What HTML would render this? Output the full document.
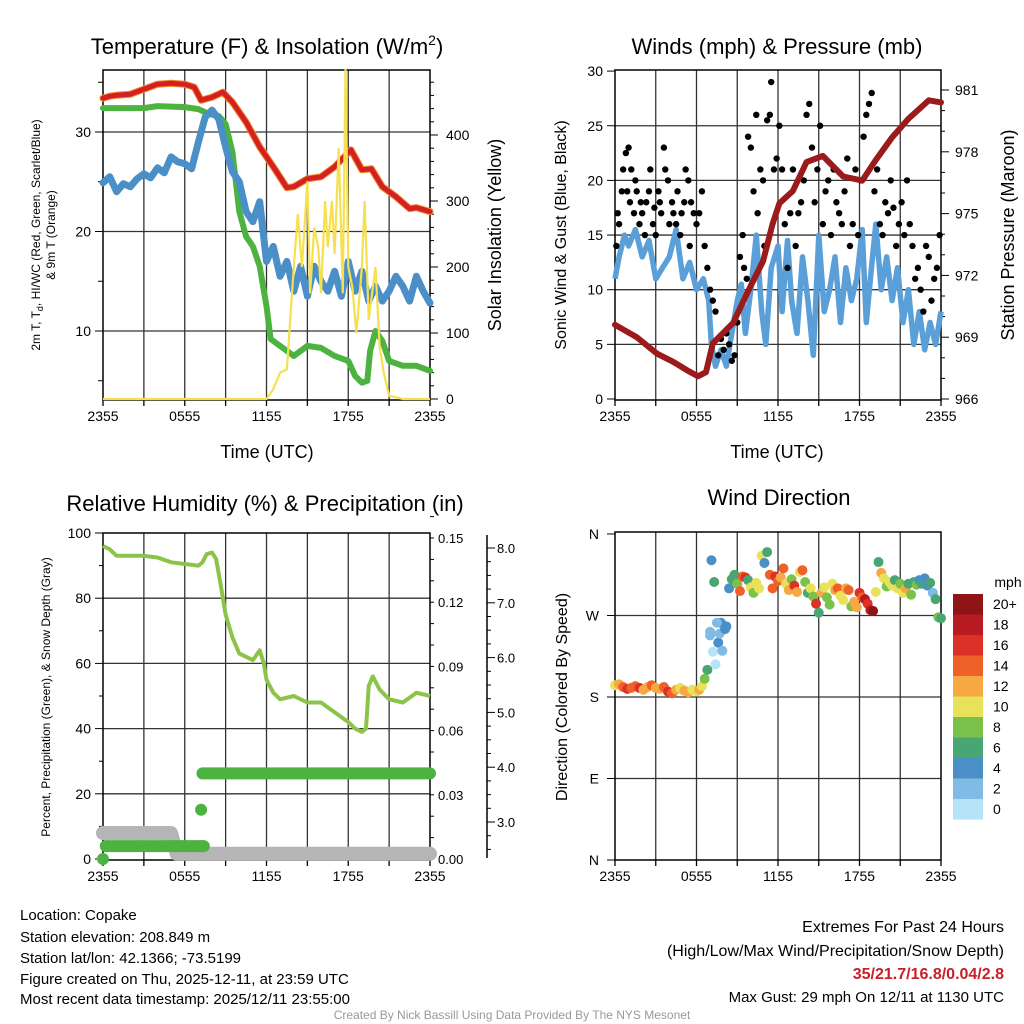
<!DOCTYPE html>
<html><head><meta charset="utf-8"><style>
html,body{margin:0;padding:0;background:#fff;}
svg{display:block;font-family:"Liberation Sans",sans-serif;}
</style></head><body>
<svg id="c" width="1024" height="1024" viewBox="0 0 1024 1024" xmlns="http://www.w3.org/2000/svg">
<rect width="1024" height="1024" fill="#fff"/>
<g id="g1"></g>
<g id="g2"></g>
<g id="g3"></g>
<g id="g4"></g>
<text x="267" y="54" font-size="22" text-anchor="middle">Temperature (F) &amp; Insolation (W/m<tspan font-size="14" dy="-9">2</tspan><tspan dy="9">)</tspan></text>
<text x="777" y="54" font-size="22" text-anchor="middle">Winds (mph) &amp; Pressure (mb)</text>
<text x="265" y="511" font-size="22" text-anchor="middle">Relative Humidity (%) &amp; Precipitation (in)</text>
<text x="779" y="505" font-size="22" text-anchor="middle">Wind Direction</text>
<text x="267" y="458" font-size="18" text-anchor="middle">Time (UTC)</text>
<text x="777" y="458" font-size="18" text-anchor="middle">Time (UTC)</text>
<text transform="translate(40,235) rotate(-90)" font-size="12" text-anchor="middle">2m T, T<tspan font-size="9" dy="3">d</tspan><tspan dy="-3">, HI/WC (Red, Green, Scarlet/Blue)</tspan></text>
<text transform="translate(55,235) rotate(-90)" font-size="12" text-anchor="middle">&amp; 9m T (Orange)</text>
<text transform="translate(501,235) rotate(-90)" font-size="18" text-anchor="middle">Solar Insolation (Yellow)</text>
<text transform="translate(566,235) rotate(-90)" font-size="16" text-anchor="middle">Sonic Wind &amp; Gust (Blue, Black)</text>
<text transform="translate(1014,235) rotate(-90)" font-size="18" text-anchor="middle">Station Pressure (Maroon)</text>
<text transform="translate(50,697) rotate(-90)" font-size="12" text-anchor="middle">Percent, Precipitation (Green), &amp; Snow Depth (Gray)</text>
<text transform="translate(567,697) rotate(-90)" font-size="16" text-anchor="middle">Direction (Colored By Speed)</text>
<g font-size="15">
<text x="20" y="920">Location: Copake</text>
<text x="20" y="942">Station elevation: 208.849 m</text>
<text x="20" y="963">Station lat/lon: 42.1366; -73.5199</text>
<text x="20" y="984">Figure created on Thu, 2025-12-11, at 23:59 UTC</text>
<text x="20" y="1004">Most recent data timestamp: 2025/12/11 23:55:00</text>
</g>
<g font-size="16" text-anchor="end">
<text x="1004" y="932">Extremes For Past 24 Hours</text>
<text x="1004" y="956">(High/Low/Max Wind/Precipitation/Snow Depth)</text>
<text x="1004" y="979" fill="#c8202a" font-weight="bold">35/21.7/16.8/0.04/2.8</text>
<text x="1004" y="1002" font-size="15">Max Gust: 29 mph On 12/11 at 1130 UTC</text>
</g>
<text x="512" y="1019" font-size="12" fill="#999" text-anchor="middle">Created By Nick Bassill Using Data Provided By The NYS Mesonet</text>
</svg>
<script>
const xTickLabels=["2355","0555","1155","1755","2355"];
const tempHours=[0,0.5,1,2,3,4,5,6,6.7,7.2,8,8.8,9.5,10.5,11.5,12.5,13.5,14,15,16,17,17.7,18.2,19,19.7,20.5,21.5,22.5,23,24];
const tempValues=[33.4,33.6,33.7,33.8,34.3,34.8,34.9,34.8,34.5,33.2,33.5,34.0,33.0,31.0,28.5,26.5,24.4,24.5,25.3,25.5,26.5,27.5,28.2,26.2,26.3,24.5,23.5,22.3,22.4,22.0];
const hiHours=[0,1,3,4,6,7,7.8,8.5,9,9.5,10,10.5,11,11.5,12,12.3,13,14,15,16,17,18,18.5,19,19.4,19.6,20,20.5,21,22,23,24];
const hiValues=[32.4,32.4,32.4,32.6,32.5,32.3,31.8,31.6,30.8,28,22,19.5,18.5,16.5,12.5,9.2,8.5,7.5,8.5,8.3,7.5,7.0,5.5,4.8,5.0,8,10,9,7,6.5,6.5,6.0];
const dewHours=[0,0.5,1,1.5,2,2.5,3,3.5,4,4.5,5,5.5,6,6.5,7,7.5,8,8.5,9,9.5,10,10.5,11,11.5,12,12.5,13,13.5,14,14.5,15,15.5,16,16.5,17,17.5,18,18.5,19,19.5,20,20.5,21,21.5,22,22.5,23,23.5,24];
const dewValues=[24.9,25.5,24,24.8,24.5,25.3,25.8,25.4,26.4,25.9,27.5,27,26.8,26.3,29,31.5,32.2,31.3,28.5,26,25,22,21,23,17,18.5,15.5,17,14,16.5,13.5,16.5,15,14,16,13.5,17,14,16,13,14.5,13,14,15.5,14.5,13,15.5,14,12.8];
const solarHours=[0,12,12.5,13,13.5,14,14.3,14.6,15,15.2,15.5,15.8,16,16.3,16.5,16.8,17,17.3,17.6,17.8,18,18.3,18.6,19,19.2,19.5,20,20.3,20.6,21,22,24];
const solarValues=[0,0,15,40,45,200,280,200,330,160,260,230,160,300,230,300,220,380,160,500,200,170,100,200,300,120,200,80,40,5,0,0];
const presHours=[0,1.6,3.1,4.3,5.3,6.1,6.7,7.2,8.7,9.7,10.9,11.6,12.1,13.1,14.1,15.3,16.8,18.2,19.2,20.4,21.6,23.1,24];
const presValues=[969.6,969.0,968.2,967.8,967.4,967.1,967.3,968.7,969.7,971.1,972.7,974.5,975.5,976.1,977.5,977.8,976.8,976.6,977.6,978.7,979.6,980.5,980.4];
const windHours=[0,0.3,0.7,1,1.5,2,2.5,3,3.5,4,4.5,5,5.5,6,6.5,6.9,7.1,7.4,7.8,8.2,8.6,9,9.3,9.6,10,10.4,10.8,11.1,11.5,12,12.3,12.7,13,13.4,13.8,14.2,14.6,15,15.4,15.8,16.2,16.6,17,17.4,17.8,18.2,18.5,18.8,19.2,19.6,20,20.4,20.8,21.2,21.6,22,22.4,22.8,23.2,23.6,24];
const windValues=[11,13,15,14,15.5,13,14.5,11,12,13,15.5,11,12.5,10,11,9,5,3,4.5,3,6,9,10.5,6,10,15,8,5,12,14,8,14.5,9,6,13,9,4,15,8,10,13,7,12,9,11,15.5,7,11,16,10,13,9,12,7,10,5,8,4.5,7,5,8];
const gustHours=[0.1,0.2,0.3,0.5,0.6,0.8,0.9,1.0,1.1,1.2,1.4,1.5,1.6,1.8,1.9,2.0,2.2,2.3,2.5,2.6,2.8,2.9,3.0,3.2,3.3,3.4,3.6,3.7,3.9,4.0,4.2,4.3,4.5,4.6,4.8,4.9,5.1,5.2,5.4,5.5,5.6,5.8,6.0,6.2,6.4,6.6,6.8,7.0,7.2,7.4,7.6,7.8,8.0,8.2,8.4,8.6,8.8,9.0,9.2,9.4,9.5,9.7,9.8,10.0,10.2,10.4,10.5,10.7,10.9,11.0,11.2,11.4,11.5,11.7,11.9,12.1,12.3,12.5,12.7,12.9,13.1,13.3,13.5,13.7,13.9,14.1,14.3,14.5,14.7,14.9,15.1,15.3,15.5,15.7,15.9,16.1,16.3,16.5,16.7,16.9,17.1,17.3,17.5,17.7,17.9,18.1,18.3,18.5,18.7,18.9,19.1,19.3,19.5,19.7,19.9,20.1,20.3,20.5,20.7,20.9,21.1,21.3,21.5,21.7,21.9,22.1,22.3,22.5,22.7,22.9,23.1,23.3,23.5,23.7,23.9];
const gustValues=[14,17,16,19,21,22.5,19,23,18,21,17,20,19,16,18,17,15,18,19,21,16,17.5,15,19,18,17,23,21,20,16,18,17,16,19,15,17,18,21,20,14,18,17,16,17,19,14,12,10,9,8,4,5.5,4.5,6,5,3.5,4,7,13,15,12,11,24,23,19,26,17,21,20,14,25.5,26,29,21,22,25,21,16,12,17,21,14,17,18,20,26,27,23,18,21,25,16,19,20,15,21,18,17,16,19,22,14,16,21,15,20,24,26,27,28,19,21,16,15,18,17,20,17.5,14,16,18,15,20,16,14,11,12,10,8,14,13,9,11,12,15];
const rhHours=[0,0.5,1,3,4,5,6,7,7.3,7.6,8,8.3,8.6,9,9.5,10,11,11.5,11.8,12,12.5,13,14,15,16,17,18,18.5,19,19.3,19.5,19.8,20.3,21,22,23,24];
const rhValues=[96,95,93,93,92.5,91,90.5,90,91,93.5,94,92,85,75,68,63,61,64,60,55,51,49,50,48,48,45,42,40,39,40,53,56,52,49,48,51,50];
const precipHours=[0,0.2,7.4,7.2,7.3,24];
const precipValues=[0,0.006,0.006,0.023,0.04,0.04];
const snowHours=[0,5,5.4,24];
const snowValues=[2.8,2.8,2.42,2.42];
const dirHours=[0,0.3,0.6,0.9,1.2,1.5,1.8,2.1,2.4,2.7,3.0,3.3,3.6,3.9,4.2,4.5,4.8,5.1,5.4,5.7,6.0,6.2,6.4,6.6,6.8,7.0,7.2,7.4,7.6,7.8,7.0,7.1,7.3,7.5,7.7,7.9,8.1,8.2,8.4,8.6,8.8,9.0,9.2,9.4,9.6,9.8,10.0,10.2,10.4,10.6,10.8,11.0,11.2,11.4,11.6,11.8,12.0,12.2,12.4,12.6,12.8,13.0,13.2,13.4,13.6,13.8,14.0,14.2,14.4,14.6,14.8,15.0,15.2,15.4,15.6,15.8,16.0,16.2,16.4,16.6,16.8,17.0,17.2,17.4,17.6,17.8,18.0,18.2,18.4,18.6,18.8,19.0,19.2,19.4,19.6,19.8,20.0,20.2,20.4,20.6,20.8,21.0,21.2,21.4,21.6,21.8,22.0,22.2,22.4,22.6,22.8,23.0,23.2,23.4,23.6,23.8,24.0];
const dirValues=[193,194,191,189,190,192,190,188,191,193,190,189,191,186,184,188,190,187,185,188,186,188,192,200,210,252,230,216,240,262,248,331,307,262,250,231,255,258,300,310,315,305,297,313,312,309,301,295,306,300,336,328,340,315,300,313,308,312,322,305,298,310,303,296,318,320,307,295,300,291,283,273,295,301,290,282,305,298,300,292,287,300,298,280,285,279,295,290,288,283,276,275,296,329,317,311,302,307,303,309,300,305,295,300,305,293,307,304,309,305,311,303,306,295,288,268,267];
const dirSpeeds=[11,13,15,16,14,15,16,13,12,14,12,13,14,16,15,12,10,13,12,10,10,12,10,8,7,2,1,1,5,5,2,4,6,2,2,2,4,4,5,6,7,9,14,15,16,6,11,9,10,11,10,4,6,15,14,17,15,12,14,11,12,9,16,13,10,14,8,7,11,8,16,7,12,10,9,8,11,13,14,10,10,13,15,8,12,12,16,14,18,17,18,20,11,7,12,10,8,10,11,6,10,9,10,12,6,8,6,9,4,7,4,4,6,3,6,8,7];
const cbLabels=["20+","18","16","14","12","10","8","6","4","2","0"];
const cbColors=["#8e1418","#b81c22","#dc3127","#f0612a","#f7a843","#e8e25a","#7ac24a","#48a673","#4a8fc6","#7fbbe4","#b5e3f7"];

const NS="http://www.w3.org/2000/svg";
function mk(parent,tag,attrs){const e=document.createElementNS(NS,tag);for(const k in attrs)e.setAttribute(k,attrs[k]);parent.appendChild(e);return e;}
function txt(parent,x,y,s,size,anchor){const t=mk(parent,'text',{x:x,y:y,'font-size':size,'text-anchor':anchor||'middle'});t.textContent=s;return t;}
function pathOf(xs,ys,sx,sy){return xs.map((h,i)=>(i?'L':'M')+sx(h).toFixed(1)+','+sy(ys[i]).toFixed(1)).join('');}

function frame(g,x0,x1,y0,y1,name){
  const gx=h=>x0+(x1-x0)*h/24;
  for(let h=3;h<24;h+=3){const l=mk(g,'line',{x1:gx(h),x2:gx(h),y1:y0,y2:y1,stroke:'#333','stroke-width':1.3});
  
  }
  const r=mk(g,'rect',{x:x0,y:y0,width:x1-x0,height:y1-y0,fill:'none',stroke:'#000','stroke-width':1.5});
  
  
  xTickLabels.forEach((s,i)=>{const x=gx(i*6);
    const t=txt(g,x,y1+21,s,14);
    
    });
  for(let h=0;h<=24;h+=3){mk(g,'line',{x1:gx(h),x2:gx(h),y1:y1,y2:y1+6,stroke:'#000','stroke-width':1.3});}
  return gx;
}
function hgrid(g,x0,x1,y){mk(g,'line',{x1:x0,x2:x1,y1:y,y2:y,stroke:'#333','stroke-width':1.3});}

// Panel 1
(function(){
  const g=document.getElementById('g1');
  const x0=103,x1=430,y0=70,y1=400;
  const yL=v=>331-(v-10)*9.95, yR=v=>399-v*0.66;
  [10,20,30].forEach(v=>hgrid(g,x0,x1,yL(v)));
  const gx=frame(g,x0,x1,y0,y1,'temp');
  for(let v=5;v<=35;v+=5){mk(g,'line',{x1:x0-(v%10?5:8),x2:x0,y1:yL(v),y2:yL(v),stroke:'#000'});}
  [10,20,30].forEach(v=>{const t=txt(g,x0-12,yL(v)+5,String(v),14,'end');
    
    });
  for(let v=0;v<=480;v+=20){mk(g,'line',{x1:x1,x2:x1+(v%100?4:8),y1:yR(v),y2:yR(v),stroke:'#000'});}
  [0,100,200,300,400].forEach(v=>{const t=txt(g,x1+16,yR(v)+5,String(v),14,'start');
    
    });
  const s=[[hiHours,hiValues,'#4db340',6,'hi-wc-line'],[dewHours,dewValues,'#4a8fc8',7,'dewpoint-line'],[tempHours,tempValues,'#f08a30',7,'temp-9m-line'],[tempHours,tempValues,'#d42020',5,'temp-2m-line']];
  s.forEach(a=>{const p=mk(g,'path',{d:pathOf(a[0],a[1],gx,yL),fill:'none',stroke:a[2],'stroke-width':a[3],'stroke-linejoin':'round','stroke-linecap':'round'});
    
    });
  const sp=mk(g,'path',{d:pathOf(solarHours,solarValues,gx,yR),fill:'none',stroke:'#f7e050','stroke-width':2.2});
  
  
})();

// Panel 2
(function(){
  const g=document.getElementById('g2');
  const x0=615,x1=941,y0=70,y1=400;
  const yL=v=>399-v*10.93, yP=v=>399-(v-966)*20.6;
  [5,10,15,20,25].forEach(v=>hgrid(g,x0,x1,yL(v)));
  const gx=frame(g,x0,x1,y0,y1,'wind');
  for(let v=0;v<=30;v+=5){mk(g,'line',{x1:x0-8,x2:x0,y1:yL(v),y2:yL(v),stroke:'#000'});
    const t=txt(g,x0-12,yL(v)+5,String(v),14,'end');
    
    }
  for(let v=966;v<=981;v++){mk(g,'line',{x1:x1,x2:x1+(v%3?4:8),y1:yP(v),y2:yP(v),stroke:'#000'});}
  for(let v=966;v<=981;v+=3){const t=txt(g,x1+14,yP(v)+5,String(v),14,'start');
    
    }
  const wp=mk(g,'path',{d:pathOf(windHours,windValues,gx,yL),fill:'none',stroke:'#5a9fd8','stroke-width':5.5,'stroke-linejoin':'round'});
  
  
  gustHours.forEach((h,i)=>{const c=mk(g,'circle',{cx:gx(h),cy:yL(gustValues[i]),r:3.2,fill:'#000'});
    
    });
  const pp=mk(g,'path',{d:pathOf(presHours,presValues,gx,yP),fill:'none',stroke:'#9b1a1c','stroke-width':6,'stroke-linejoin':'round','stroke-linecap':'round'});
  
  
})();

// Panel 3
(function(){
  const g=document.getElementById('g3');
  const x0=103,x1=430,y0=533,y1=860;
  const yL=v=>859-v*3.26, yPr=v=>859-v*2140, ySn=v=>822-(v-3)*54.8;
  [20,40,60,80].forEach(v=>hgrid(g,x0,x1,yL(v)));
  const gx=frame(g,x0,x1,y0,y1,'rh');
  for(let v=0;v<=100;v+=10){mk(g,'line',{x1:x0-(v%20?4:8),x2:x0,y1:yL(v),y2:yL(v),stroke:'#000'});}
  for(let v=0;v<=100;v+=20){const t=txt(g,x0-12,yL(v)+5,String(v),14,'end');
    
    }
  for(let v=0;v<=0.16;v+=0.01){mk(g,'line',{x1:x1,x2:x1+4,y1:yPr(v),y2:yPr(v),stroke:'#000'});}
  [0,0.03,0.06,0.09,0.12,0.15].forEach(v=>{const t=txt(g,x1+8,yPr(v)+5,v.toFixed(2),13,'start');
    
    });
  mk(g,'line',{x1:487,x2:487,y1:535,y2:858,stroke:'#000','stroke-width':1.5});
  for(let v=2.5;v<=8.2;v+=0.25){mk(g,'line',{x1:487,x2:487+(Math.abs(v-Math.round(v))<0.01?8:4),y1:ySn(v),y2:ySn(v),stroke:'#000'});}
  for(let v=3;v<=8;v++){const t=txt(g,497,ySn(v)+5,v.toFixed(1),13,'start');
    
    }
  const sn=mk(g,'path',{d:pathOf(snowHours,snowValues,gx,ySn),fill:'none',stroke:'#b5b5b5','stroke-width':14,'stroke-linecap':'round','stroke-linejoin':'round'});
  
  
  precipHours.forEach((h,i)=>{
    const c=mk(g,'circle',{cx:gx(h),cy:yPr(precipValues[i]),r:6,fill:'#4db340'});
    
    
    if(i>0&&precipValues[i]===precipValues[i-1]){
      const l=mk(g,'line',{x1:gx(precipHours[i-1]),x2:gx(h),y1:yPr(precipValues[i]),y2:yPr(precipValues[i]),stroke:'#4db340','stroke-width':12});
      
      
    }
  });
  const rh=mk(g,'path',{d:pathOf(rhHours,rhValues,gx,yL),fill:'none',stroke:'#8cc44a','stroke-width':4,'stroke-linejoin':'round'});
  
  
})();

// Panel 4
(function(){
  const g=document.getElementById('g4');
  const x0=615,x1=941,y0=532,y1=860;
  const yD=d=>860-d*0.9056;
  [90,180,270].forEach(v=>hgrid(g,x0,x1,yD(v)));
  const gx=frame(g,x0,x1,y0,y1,'dir');
  ['N','E','S','W','N'].forEach((s,i)=>{mk(g,'line',{x1:x0-8,x2:x0,y1:yD(i*90),y2:yD(i*90),stroke:'#000'});
    const t=txt(g,x0-16,yD(i*90)+5,s,14,'end');
    
    });
  dirHours.forEach((h,i)=>{const idx=10-Math.min(10,Math.floor(dirSpeeds[i]/2));
    const c=mk(g,'circle',{cx:gx(h),cy:yD(dirValues[i]),r:5,fill:cbColors[idx]});
    
    });
  const cb=mk(g,'g',{});
  
  
  txt(cb,1008,587,'mph',14);
  cbColors.forEach((c,i)=>{mk(cb,'rect',{x:953,y:594+i*20.5,width:30,height:20.6,fill:c});
    const t=txt(cb,993,609+i*20.5,cbLabels[i],14,'start');
    
    });
})();
</script>
</body></html>
